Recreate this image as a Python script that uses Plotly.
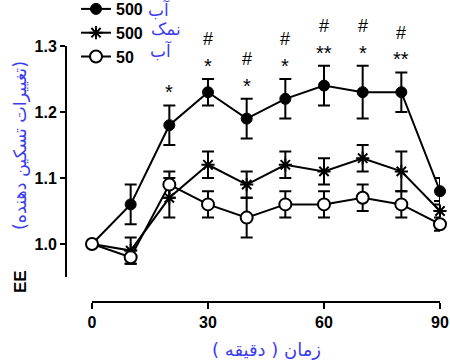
import plotly.graph_objects as go

time_min = [0, 10, 20, 30, 40, 50, 60, 70, 80, 90]
x_ticks = [0, 30, 60, 90]
y_ticks = [1.0, 1.1, 1.2, 1.3]
y_tick_labels = ["1.0", "1.1", "1.2", "1.3"]

water500_mean = [1.00, 1.06, 1.18, 1.23, 1.19, 1.22, 1.24, 1.23, 1.23, 1.08]
water500_err = [0.00, 0.03, 0.03, 0.02, 0.03, 0.03, 0.03, 0.04, 0.03, 0.02]
salt500_mean = [1.00, 0.99, 1.07, 1.12, 1.09, 1.12, 1.11, 1.13, 1.11, 1.05]
salt500_err = [0.00, 0.02, 0.03, 0.02, 0.02, 0.02, 0.02, 0.02, 0.03, 0.015]
water50_mean = [1.00, 0.98, 1.09, 1.06, 1.04, 1.06, 1.06, 1.07, 1.06, 1.03]
water50_err = [0.00, 0.01, 0.02, 0.02, 0.03, 0.02, 0.02, 0.02, 0.02, 0.01]

sig_star = ["", "", "*", "*", "*", "*", "**", "*", "**", ""]
sig_hash = ["", "", "", "#", "#", "#", "#", "#", "#", ""]

legend_nums = ["500", "500", "50"]
legend_fa = ["آب", "نمک", "آب"]
y_title_en = "EE"
y_title_fa = "(تغییرات تسکین دهنده)"
x_title_fa = "\u200fزمان ( دقیقه )\u200f"

W, H = 450, 361
BLUE = "#3b3bf0"
Y_RANGE = [0.95, 1.3]

def px_x(p):
    return p / W

def px_y(p):
    return (H - p) / H

def y_dom(v):
    return (v - Y_RANGE[0]) / (Y_RANGE[1] - Y_RANGE[0])

fig = go.Figure()

common = dict(mode="lines+markers", cliponaxis=False,
              line=dict(color="black", width=2))

fig.add_trace(go.Scatter(
    x=time_min, y=water500_mean, name=legend_nums[0], legendgroup="a",
    error_y=dict(type="data", array=water500_err, color="black", thickness=2, width=6),
    marker=dict(symbol="circle", size=11, color="black", line=dict(color="black", width=1)),
    **common))
fig.add_trace(go.Scatter(
    x=time_min, y=salt500_mean, name=legend_nums[1], legendgroup="b",
    error_y=dict(type="data", array=salt500_err, color="black", thickness=2, width=6),
    marker=dict(symbol="asterisk-open", size=11, color="black", line=dict(color="black", width=2)),
    **common))
fig.add_trace(go.Scatter(
    x=time_min, y=water50_mean, name=legend_nums[2], legendgroup="c",
    error_y=dict(type="data", array=water50_err, color="black", thickness=2, width=6),
    marker=dict(symbol="circle", size=12, color="white", line=dict(color="black", width=2)),
    **common))

annotations = []
for t, m, e, s, h in zip(time_min, water500_mean, water500_err, sig_star, sig_hash):
    top = m + e
    if s:
        annotations.append(dict(x=t, y=y_dom(top + 0.020), xref="x", yref="y domain", text=s,
                                showarrow=False, yanchor="middle",
                                font=dict(family="Liberation Sans", size=20, color="black")))
    if h:
        annotations.append(dict(x=t, y=y_dom(top + 0.060), xref="x", yref="y domain", text=h,
                                showarrow=False, yanchor="middle",
                                font=dict(family="Liberation Sans", size=18, color="black")))

legend_fa_pos = [(159, 10), (166, 29), (161, 51)]
for txt, (ax, ay) in zip(legend_fa, legend_fa_pos):
    annotations.append(dict(x=px_x(ax), y=px_y(ay), xref="paper", yref="paper", text=txt,
                            showarrow=False, xanchor="center", yanchor="middle",
                            font=dict(family="DejaVu Sans", size=17, color=BLUE)))

annotations.append(dict(x=px_x(20), y=px_y(282), xref="paper", yref="paper", text=y_title_en,
                        showarrow=False, textangle=-90, xanchor="center", yanchor="middle",
                        font=dict(family="Liberation Sans", size=17, color="black", weight="bold")))
annotations.append(dict(x=px_x(20), y=px_y(146), xref="paper", yref="paper", text=y_title_fa,
                        showarrow=False, textangle=-90, xanchor="center", yanchor="middle",
                        font=dict(family="DejaVu Sans", size=17.5, color=BLUE)))
annotations.append(dict(x=px_x(266), y=px_y(349), xref="paper", yref="paper", text=x_title_fa,
                        showarrow=False, xanchor="center", yanchor="middle",
                        font=dict(family="DejaVu Sans", size=18, color=BLUE)))

axis_font = dict(family="Liberation Sans", size=16, color="black", weight="bold")

fig.update_layout(
    width=W, height=H,
    margin=dict(l=0, r=0, t=0, b=0, autoexpand=False),
    paper_bgcolor="white", plot_bgcolor="white",
    showlegend=True,
    legend=dict(x=px_x(76), y=px_y(-8), xanchor="left", yanchor="top",
                bgcolor="rgba(0,0,0,0)", font=dict(family="Liberation Sans", size=16,
                                                   color="black", weight="bold"),
                itemwidth=30, tracegroupgap=0),
    xaxis=dict(domain=[px_x(92), px_x(440)], range=[0, 90], tickvals=x_ticks,
               ticks="outside", ticklen=6, tickwidth=2, tickcolor="black",
               showline=True, linewidth=2, linecolor="black", automargin=False,
               showgrid=False, zeroline=False, anchor="free", position=px_y(302),
               tickfont=axis_font),
    yaxis=dict(domain=[px_y(277), px_y(46)], range=Y_RANGE, tickvals=y_ticks,
               ticktext=y_tick_labels, automargin=False,
               ticks="outside", ticklen=5, tickwidth=2, tickcolor="black",
               showline=True, linewidth=2, linecolor="black",
               showgrid=False, zeroline=False, anchor="free", position=px_x(66),
               tickfont=axis_font),
    annotations=annotations,
)

fig.write_html("out.html", config={"displayModeBar": False},
               post_script="document.body.style.margin='0';document.body.style.overflow='hidden';")
